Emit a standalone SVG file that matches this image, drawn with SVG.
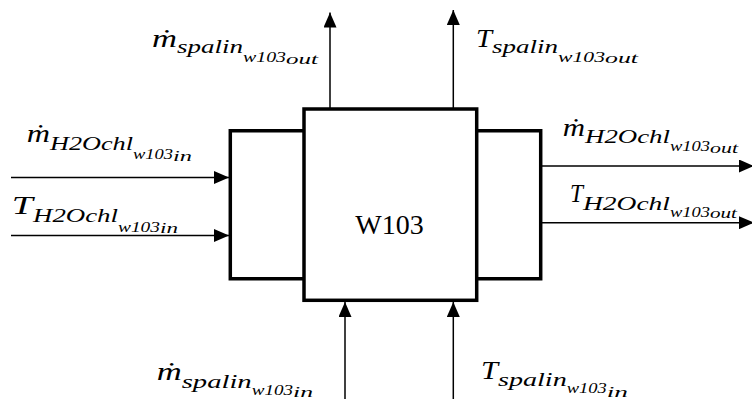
<svg xmlns="http://www.w3.org/2000/svg" width="752" height="399" viewBox="0 0 752 399">
  <style>
    .box { fill: none; stroke: #000; stroke-width: 3.5; stroke-linejoin: miter; }
    .flow { fill: none; stroke: #000; stroke-width: 1.5; }
  </style>
  <defs>
    <marker id="arrow" markerUnits="userSpaceOnUse" markerWidth="15" markerHeight="13" refX="15" refY="6.5" orient="auto">
      <path d="M0,0 L15,6.5 L0,13 Z" fill="#000"/>
    </marker>
  </defs>
  <rect width="752" height="399" fill="#fff"/>

  <!-- heat exchanger W103: shell with two side chambers -->
  <g id="w103">
    <polyline class="box" points="304,130.7 230.3,130.7 230.3,278.7 304,278.7"/>
    <polyline class="box" points="476.7,130.7 540.7,130.7 540.7,278.7 476.7,278.7"/>
    <rect class="box" x="304" y="109" width="172.7" height="191.3" fill="#fff"/>
    <text x="389.5" y="234" text-anchor="middle" font-family="'Liberation Serif', serif" font-size="28" fill="#000">W103</text>
  </g>

  <!-- connectors -->
  <g id="connectors">
    <line class="flow" x1="330" y1="108" x2="330" y2="12.5" marker-end="url(#arrow)"/>
    <line class="flow" x1="453.3" y1="108" x2="453.3" y2="10" marker-end="url(#arrow)"/>
    <line class="flow" x1="11" y1="177.5" x2="229" y2="177.5" marker-end="url(#arrow)"/>
    <line class="flow" x1="11" y1="235.5" x2="229" y2="235.5" marker-end="url(#arrow)"/>
    <line class="flow" x1="542" y1="166" x2="754" y2="166" marker-end="url(#arrow)"/>
    <line class="flow" x1="542" y1="222.7" x2="754" y2="222.7" marker-end="url(#arrow)"/>
    <line class="flow" x1="345" y1="400" x2="345" y2="302" marker-end="url(#arrow)"/>
    <line class="flow" x1="453.3" y1="400" x2="453.3" y2="302" marker-end="url(#arrow)"/>
  </g>

  <!-- variable labels: symbol, subscript, second-level subscripts -->
  <g id="labels" font-family="'Liberation Serif', serif" font-style="italic" fill="#000">
    <g id="label-m-spalin-out">
      <text font-size="26" x="152" y="47" textLength="25" lengthAdjust="spacingAndGlyphs">ṁ</text>
      <text font-size="19" x="177" y="53" textLength="66" lengthAdjust="spacingAndGlyphs">spalin</text>
      <text font-size="15" x="243" y="62" textLength="43" lengthAdjust="spacingAndGlyphs">w103</text>
      <text font-size="15" x="286" y="63.5" textLength="32" lengthAdjust="spacingAndGlyphs">out</text>
    </g>
    <g id="label-T-spalin-out">
      <text font-size="26" x="476" y="46.7" textLength="16" lengthAdjust="spacingAndGlyphs">T</text>
      <text font-size="19" x="492" y="53" textLength="66" lengthAdjust="spacingAndGlyphs">spalin</text>
      <text font-size="15" x="558" y="61.7" textLength="47" lengthAdjust="spacingAndGlyphs">w103</text>
      <text font-size="15" x="605" y="63" textLength="33" lengthAdjust="spacingAndGlyphs">out</text>
    </g>
    <g id="label-m-h2o-in">
      <text font-size="26" x="26.7" y="141.7" textLength="23.3" lengthAdjust="spacingAndGlyphs">ṁ</text>
      <text font-size="19" x="50" y="150" textLength="83" lengthAdjust="spacingAndGlyphs">H2Ochl</text>
      <text font-size="15" x="133" y="159" textLength="40" lengthAdjust="spacingAndGlyphs">w103</text>
      <text font-size="15" x="173" y="160.7" textLength="19" lengthAdjust="spacingAndGlyphs">in</text>
    </g>
    <g id="label-T-h2o-in">
      <text font-size="26" x="11.7" y="214" textLength="21" lengthAdjust="spacingAndGlyphs">T</text>
      <text font-size="19" x="33" y="221.7" textLength="85" lengthAdjust="spacingAndGlyphs">H2Ochl</text>
      <text font-size="15" x="118" y="231.7" textLength="42" lengthAdjust="spacingAndGlyphs">w103</text>
      <text font-size="15" x="160" y="233" textLength="18" lengthAdjust="spacingAndGlyphs">in</text>
    </g>
    <g id="label-m-h2o-out">
      <text font-size="26" x="562.7" y="136" textLength="22.3" lengthAdjust="spacingAndGlyphs">ṁ</text>
      <text font-size="19" x="585" y="143.3" textLength="85" lengthAdjust="spacingAndGlyphs">H2Ochl</text>
      <text font-size="15" x="670" y="151" textLength="40" lengthAdjust="spacingAndGlyphs">w103</text>
      <text font-size="15" x="710" y="152.5" textLength="28" lengthAdjust="spacingAndGlyphs">out</text>
    </g>
    <g id="label-T-h2o-out">
      <text font-size="26" x="570" y="201.7" textLength="13" lengthAdjust="spacingAndGlyphs">T</text>
      <text font-size="19" x="583" y="209.5" textLength="87" lengthAdjust="spacingAndGlyphs">H2Ochl</text>
      <text font-size="15" x="670" y="216.5" textLength="40" lengthAdjust="spacingAndGlyphs">w103</text>
      <text font-size="15" x="710" y="218" textLength="27" lengthAdjust="spacingAndGlyphs">out</text>
    </g>
    <g id="label-m-spalin-in">
      <text font-size="26" x="156.7" y="380" textLength="25" lengthAdjust="spacingAndGlyphs">ṁ</text>
      <text font-size="19" x="181.7" y="388" textLength="70" lengthAdjust="spacingAndGlyphs">spalin</text>
      <text font-size="15" x="251.7" y="395" textLength="41.3" lengthAdjust="spacingAndGlyphs">w103</text>
      <text font-size="15" x="293" y="397" textLength="20" lengthAdjust="spacingAndGlyphs">in</text>
    </g>
    <g id="label-T-spalin-in">
      <text font-size="26" x="481" y="379" textLength="17" lengthAdjust="spacingAndGlyphs">T</text>
      <text font-size="19" x="498" y="386" textLength="68.7" lengthAdjust="spacingAndGlyphs">spalin</text>
      <text font-size="15" x="566.7" y="393" textLength="40" lengthAdjust="spacingAndGlyphs">w103</text>
      <text font-size="15" x="606.7" y="397" textLength="21.3" lengthAdjust="spacingAndGlyphs">in</text>
    </g>
  </g>
</svg>
